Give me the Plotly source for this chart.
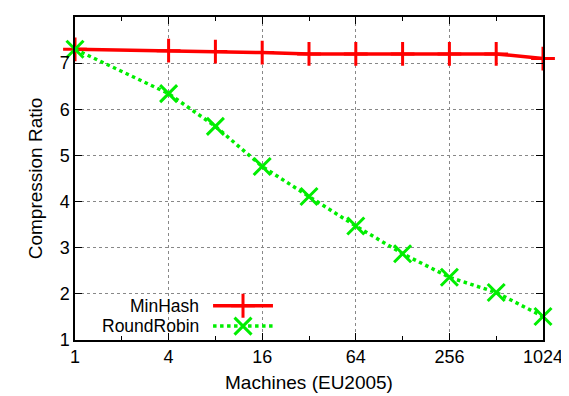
import plotly.graph_objects as go

machines = [1, 4, 8, 16, 32, 64, 128, 256, 512, 1024]
minhash = [7.30, 7.27, 7.25, 7.23, 7.20, 7.20, 7.20, 7.20, 7.20, 7.10]
roundrobin = [7.30, 6.34, 5.63, 4.76, 4.11, 3.47, 2.87, 2.36, 2.03, 1.51]
x_ticks = [1, 4, 16, 64, 256, 1024]
x_minor = [2, 8, 32, 128, 512]
y_ticks = [1, 2, 3, 4, 5, 6, 7, 8]
series_names = ["MinHash", "RoundRobin"]

RED = "#ff0000"
GREEN = "#00ee00"
FONT = "Liberation Sans, Arial, sans-serif"

fig = go.Figure()
fig.add_trace(go.Scatter(
    x=machines, y=minhash, mode="lines+markers", name=series_names[0],
    line=dict(color=RED, width=3.5),
    marker=dict(symbol="cross-thin", size=17, line=dict(color=RED, width=3)),
    showlegend=False, cliponaxis=False))
fig.add_trace(go.Scatter(
    x=machines, y=roundrobin, mode="lines+markers", name=series_names[1],
    line=dict(color=GREEN, width=3.5, dash="dot"),
    marker=dict(symbol="x-thin", size=17, line=dict(color=GREEN, width=3)),
    showlegend=False, cliponaxis=False))

# legend samples on an overlay axis (0..1 in plot-area fractions)
leg_y = [0.106, 0.043]
fig.add_trace(go.Scatter(
    x=[0.295, 0.423], y=[leg_y[0]] * 2, xaxis="x2", yaxis="y2", mode="lines",
    line=dict(color=RED, width=3.5), showlegend=False, hoverinfo="skip"))
fig.add_trace(go.Scatter(
    x=[0.359], y=[leg_y[0]], xaxis="x2", yaxis="y2", mode="markers",
    marker=dict(symbol="cross-thin", size=17, line=dict(color=RED, width=3)),
    showlegend=False, hoverinfo="skip"))
fig.add_trace(go.Scatter(
    x=[0.295, 0.423], y=[leg_y[1]] * 2, xaxis="x2", yaxis="y2", mode="lines",
    line=dict(color=GREEN, width=3.5, dash="dot"), showlegend=False, hoverinfo="skip"))
fig.add_trace(go.Scatter(
    x=[0.359], y=[leg_y[1]], xaxis="x2", yaxis="y2", mode="markers",
    marker=dict(symbol="x-thin", size=17, line=dict(color=GREEN, width=3)),
    showlegend=False, hoverinfo="skip"))

for name, yy in zip(series_names, leg_y):
    fig.add_annotation(x=0.267, y=yy, xref="x2", yref="y2", text=name,
                       showarrow=False, xanchor="right", yanchor="middle",
                       borderpad=0,
                       font=dict(family=FONT, size=17.5, color="black"))

# page body has an 8px default margin, so figure is sized/placed to compensate
fig.update_layout(
    width=561, height=388,
    margin=dict(l=67, r=26, t=9, b=56, autoexpand=False),
    paper_bgcolor="white", plot_bgcolor="white",
    font=dict(family=FONT, size=18, color="black"),
    xaxis=dict(
        type="log", range=[0, 3.0103], tickvals=x_ticks,
        ticktext=[str(v) for v in x_ticks], automargin=False,
        ticks="inside", ticklen=7, tickwidth=1, tickcolor="black",
        showline=True, linecolor="black", linewidth=1.5, mirror="allticks",
        showgrid=True, gridcolor="#888888", griddash="dot", gridwidth=1,
        zeroline=False,
        minor=dict(tickvals=x_minor, ticks="inside", ticklen=4,
                   tickcolor="black", showgrid=False),
        title=dict(text="Machines (EU2005)", font=dict(size=19), standoff=9),
        tickfont=dict(size=18),
    ),
    yaxis=dict(
        range=[1, 8], tickvals=y_ticks, automargin=False,
        ticks="inside", ticklen=7, tickwidth=1, tickcolor="black",
        showline=True, linecolor="black", linewidth=1.5, mirror="allticks",
        showgrid=True, gridcolor="#888888", griddash="dot", gridwidth=1,
        zeroline=False,
        title=dict(text="Compression Ratio", font=dict(size=19), standoff=12),
        tickfont=dict(size=18),
    ),
    xaxis2=dict(range=[0, 1], overlaying="x", visible=False, anchor="y2"),
    yaxis2=dict(range=[0, 1], overlaying="y", visible=False, anchor="x2"),
)

fig.write_html("out.html")
